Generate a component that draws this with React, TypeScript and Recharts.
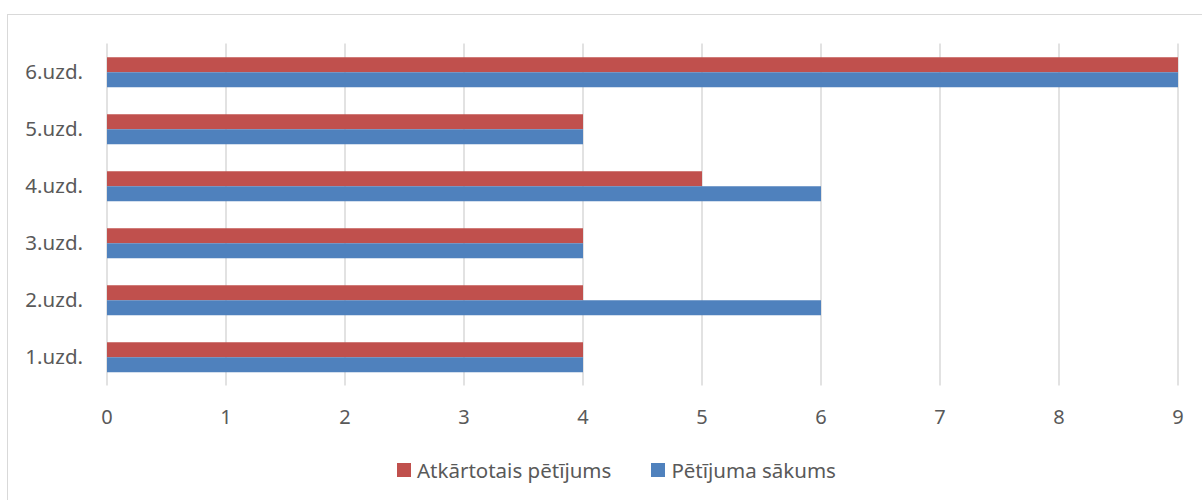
import { BarChart, Bar, XAxis, YAxis, CartesianGrid } from 'recharts'

const categories = ['1.uzd.', '2.uzd.', '3.uzd.', '4.uzd.', '5.uzd.', '6.uzd.']
const atkartotais = [4, 4, 4, 5, 4, 9]
const sakums = [4, 6, 4, 6, 4, 9]
const xTicks = [0, 1, 2, 3, 4, 5, 6, 7, 8, 9]

const SERIES = [
  { key: 'atkartotais', name: 'Atkārtotais pētījums', color: '#C0504D' },
  { key: 'sakums', name: 'Pētījuma sākums', color: '#4F81BD' },
]

const FONT = '"Noto Sans", "Open Sans", sans-serif'
const TEXT = '#595959'

export default function App() {
  // reversed so 1.uzd. ends up at the bottom
  const data = categories
    .map((c, i) => ({ cat: c, atkartotais: atkartotais[i], sakums: sakums[i] }))
    .reverse()

  return (
    <div style={{ position: 'absolute', left: 0, top: 0, width: 1202, height: 500, overflow: 'hidden', background: '#fff', fontFamily: FONT }}>
      <div style={{ position: 'absolute', left: 7, top: 14, width: 1220, height: 520, border: '1px solid #D9D9D9', boxSizing: 'border-box' }} />
      <div style={{ position: 'absolute', left: 0, top: 0 }}>
        <BarChart
          width={1202}
          height={500}
          data={data}
          layout="vertical"
          margin={{ top: 43.5, right: 24, bottom: 84.5, left: 0 }}
          barCategoryGap="24%"
          barGap={0}
        >
          <CartesianGrid horizontal={false} stroke="#D9D9D9" strokeWidth={1.5} />
          <XAxis
            type="number"
            domain={[0, 9]}
            ticks={xTicks}
            interval={0}
            axisLine={false}
            tickLine={false}
            tickSize={0}
            tickMargin={24}
            height={30}
            tick={{ fill: TEXT, fontSize: 20, fontFamily: FONT }}
          />
          <YAxis
            type="category"
            dataKey="cat"
            width={107}
            axisLine={false}
            tickLine={false}
            tickSize={0}
            tickMargin={24}
            tick={{ fill: TEXT, fontSize: 20.5, fontFamily: FONT }}
          />
          {SERIES.map((s) => (
            <Bar key={s.key} dataKey={s.key} name={s.name} fill={s.color} isAnimationActive={false} />
          ))}
        </BarChart>
      </div>
      <div style={{ position: 'absolute', left: 397, top: 460, display: 'flex', alignItems: 'center', gap: 40, color: TEXT, fontSize: 20.5, lineHeight: '20px' }}>
        {SERIES.map((s) => (
          <div key={s.key} style={{ display: 'flex', alignItems: 'center' }}>
            <span style={{ width: 14, height: 14, background: s.color, marginRight: 6, display: 'inline-block' }} />
            <span>{s.name}</span>
          </div>
        ))}
      </div>
    </div>
  )
}
